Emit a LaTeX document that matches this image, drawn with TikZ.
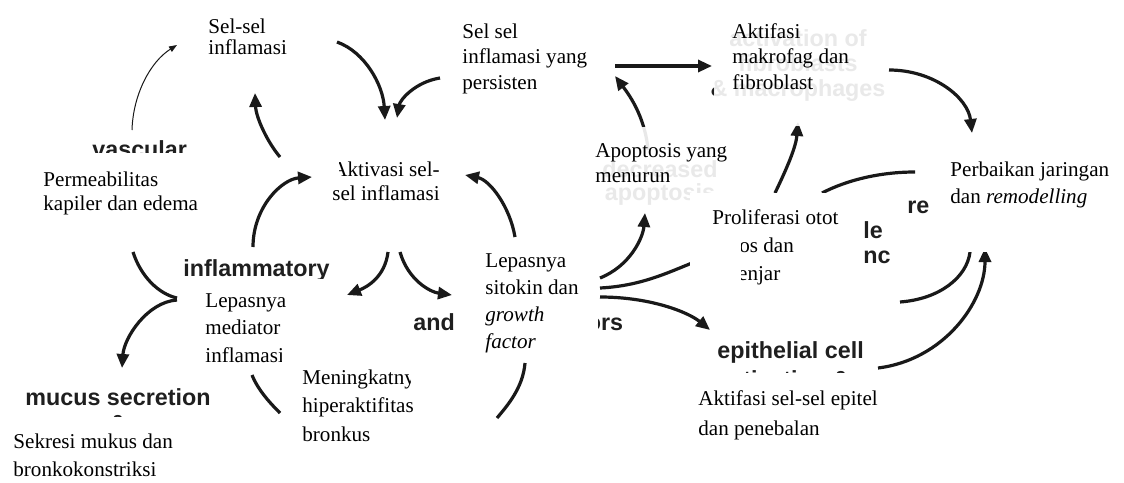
\documentclass[tikz,border=0pt]{standalone}
\usepackage{fontspec}
\setmainfont{Liberation Serif}
\newfontfamily\engfont{Liberation Sans}
\usetikzlibrary{arrows.meta}

\begin{document}
\begin{tikzpicture}[
    x=0.5pt, y=-0.5pt,
    idn/.style={anchor=north west, inner sep=0pt, align=left,
      font=\fontsize{10.55}{#1}\selectfont},
    idn/.default=12.5,
    eng/.style={anchor=north west, inner sep=0pt, align=left, text=black!88,
      font=\engfont\bfseries\fontsize{11.65}{#1}\selectfont},
    eng/.default=13,
    ghost/.style={eng=#1, anchor=north, align=center},
    flow/.style={draw=black!90, line width=1.6pt, -{Triangle[length=7pt,width=6pt]}},
    thinflow/.style={draw=black!90, line width=0.5pt, -{Triangle[length=4pt,width=3pt]}},
    trail/.style={draw=black!90, line width=1.6pt},
    cover/.style={fill=white},
    veil/.style={fill=white, fill opacity=0.9}
  ]
  \useasboundingbox (0,0) rectangle (1124,482);
  \fill[white] (0,0) rectangle (1124,482);

  % english figure underneath
  \node[eng] (vascular) at (92,140) {vascular};
  \node[eng] (inflammatory) at (183,259) {inflammatory};
  \node[eng] (growthf) at (413,313) {and growth factors};
  \node[ghost=13, anchor=north west, align=center] (mucus) at (25,388) {mucus secretion\\\&};
  \node[eng=14.5] (epithelial) at (717,341) {epithelial cell\\activation \&};
  \node[eng] (musclele) at (863,221) {le};
  \node[eng] (musclenc) at (863,251) {nc};
  \node[eng] (remod) at (907,201) {re};
  \node[ghost=12.5] (fibroghost) at (798,29) {activation of\\fibroblasts\\\& macrophages};
  \node[ghost=11.5] (apoghost) at (660,160) {decreased\\apoptosis};

  \coordinate (cells-r) at (337,42);
  \coordinate (act-t1) at (385,120);
  \coordinate (pers-l) at (440,78);
  \coordinate (act-t2) at (397,118);
  \coordinate (vasc-t) at (132,130);
  \coordinate (cells-l) at (177,45);
  \coordinate (act-l) at (280,157);
  \coordinate (cells-b) at (255,93);
  \coordinate (med-t) at (253,247);
  \coordinate (act-lb) at (312,177);
  \coordinate (cyt-t) at (515,237);
  \coordinate (act-r) at (465,175);
  \coordinate (act-b1) at (388,252);
  \coordinate (med-r) at (347,295);
  \coordinate (act-b2) at (400,252);
  \coordinate (cyt-l) at (452,295);
  \coordinate (vasc-b) at (133,252);
  \coordinate (med-l1) at (177,298);
  \coordinate (med-l2) at (177,300);
  \coordinate (mucus-t) at (122,368);
  \coordinate (med-b) at (252,375);
  \coordinate (hyper-l) at (280,413);
  \coordinate (cyt-b) at (525,363);
  \coordinate (cyt-end) at (497,418);
  \coordinate (cyt-r1) at (600,278);
  \coordinate (apo-b) at (645,213);
  \coordinate (apo-t) at (648,150);
  \coordinate (pers-r) at (615,76);
  \coordinate (pers-e) at (615,66);
  \coordinate (fib-l) at (712,66);
  \coordinate (fib-r) at (889,70);
  \coordinate (rep-t) at (972,133);
  \coordinate (smo-t) at (775,193);
  \coordinate (fib-b) at (798,122);
  \coordinate (smo-tr) at (822,193);
  \coordinate (rep-l) at (915,172);
  \coordinate (cyt-r2) at (600,288);
  \coordinate (smo-l) at (692,263);
  \coordinate (cyt-r3) at (600,297);
  \coordinate (epi-l) at (710,330);
  \coordinate (smo-br) at (900,302);
  \coordinate (rep-b1) at (970,252);
  \coordinate (epi-r) at (878,368);
  \coordinate (rep-b2) at (985,248);

  \draw[flow] (cells-r) .. controls +(28,10) and +(-2,-35) .. (act-t1);
  \draw[flow] (pers-l) .. controls +(-25,4) and +(3,-18) .. (act-t2);
  \draw[thinflow] (vasc-t) .. controls +(1,-35) and +(-27,17) .. (cells-l);
  \draw[flow] (act-l) .. controls +(-12,-14) and +(1,25) .. (cells-b);
  \draw[flow] (med-t) .. controls +(0,-40) and +(-30,2) .. (act-lb);
  \draw[flow] (cyt-t) .. controls +(-5,-30) and +(25,5) .. (act-r);
  \draw[flow] (act-b1) .. controls +(-3,25) and +(20,-8) .. (med-r);
  \draw[flow] (act-b2) .. controls +(8,28) and +(-22,-3) .. (cyt-l);
  \draw[trail] (vasc-b) .. controls +(8,25) and +(-18,-4) .. (med-l1);
  \draw[flow] (med-l2) .. controls +(-30,2) and +(2,-30) .. (mucus-t);
  \draw[trail] (med-b) .. controls +(6,15) and +(-10,-10) .. (hyper-l);
  \draw[trail] (cyt-b) .. controls +(-2,25) and +(10,-12) .. (cyt-end);
  \draw[flow] (cyt-r1) .. controls +(30,-12) and +(-2,25) .. (apo-b);
  \draw[flow] (apo-t) .. controls +(-3,-35) and +(12,16) .. (pers-r);
  \draw[flow] (pers-e) -- (fib-l);
  \draw[flow] (fib-r) .. controls +(45,0) and +(-4,-35) .. (rep-t);
  \draw[flow] (smo-t) .. controls +(12,-25) and +(-2,25) .. (fib-b);
  \draw[trail] (smo-tr) .. controls +(25,-13) and +(-35,0) .. (rep-l);
  \draw[trail] (cyt-r2) .. controls +(40,-2) and +(-25,10) .. (smo-l);
  \draw[flow] (cyt-r3) .. controls +(50,0) and +(-22,-18) .. (epi-l);
  \draw[trail] (smo-br) .. controls +(40,-3) and +(-3,25) .. (rep-b1);
  \draw[flow] (epi-r) .. controls +(65,-8) and +(0,55) .. (rep-b2);

  % indonesian boxes on top
  \fill[cover] (195,0) rectangle (335,68);
  \fill[cover] (442,8) rectangle (610,100);
  \fill[veil] (714,15) rectangle (886,126);
  \fill[cover] (25,153) rectangle (215,235);
  \fill[cover] (330,142) rectangle (455,248);
  \fill[veil] (590,127) rectangle (730,210);
  \fill[cover] (930,146) rectangle (1124,252);
  \fill[cover] (690,193) rectangle (864,295);
  \fill[cover] (460,238) rectangle (598,360);
  \fill[cover] (180,279) rectangle (340,372);
  \fill[cover] (284,366) rectangle (420,455);
  \fill[cover] (690,373) rectangle (900,460);
  \fill[cover] (0,417) rectangle (210,482);

  \node[idn=10.5] (selsel) at (208,18) {Sel-sel\\inflamasi};
  \node[idn=12.75] (persisten) at (462,23) {Sel sel\\inflamasi yang\\persisten};
  \node[idn=12.75] (makrofag) at (732,23) {Aktifasi\\makrofag dan\\fibroblast};
  \node[idn=12] (permeab) at (43,171) {Permeabilitas\\kapiler dan edema};
  \node[idn=12] (aktivasi) at (332,161) {Aktivasi sel-\\sel inflamasi};
  \node[idn=12.5] (apoptosis) at (595,143) {Apoptosis yang\\menurun};
  \node[idn=13.5] (perbaikan) at (950,161) {Perbaikan jaringan\\dan \textit{remodelling}};
  \node[idn=14] (proliferasi) at (712,209) {Proliferasi otot\\polos dan\\kelenjar};
  \node[idn=13.5] (sitokin) at (485,253) {Lepasnya\\sitokin dan\\\textit{growth}\\\textit{factor}};
  \node[idn=13.75] (mediator) at (205,293) {Lepasnya\\mediator\\inflamasi};
  \node[idn=14.25] (hiperaktif) at (302,369) {Meningkatnya\\hiperaktifitas\\bronkus};
  \node[idn=14] (sekresi) at (13,433) {Sekresi mukus dan\\bronkokonstriksi};
  \node[idn=15] (epitel) at (698,390) {Aktifasi sel-sel epitel\\dan penebalan};

  \fill[cover] (325,150) rectangle (339,179);
  \fill[cover] (711,230) rectangle (741,292);
  \fill[cover] (282,340) rectangle (300,370);
  \fill[cover] (411,368) rectangle (440,395);
\end{tikzpicture}
\end{document}
